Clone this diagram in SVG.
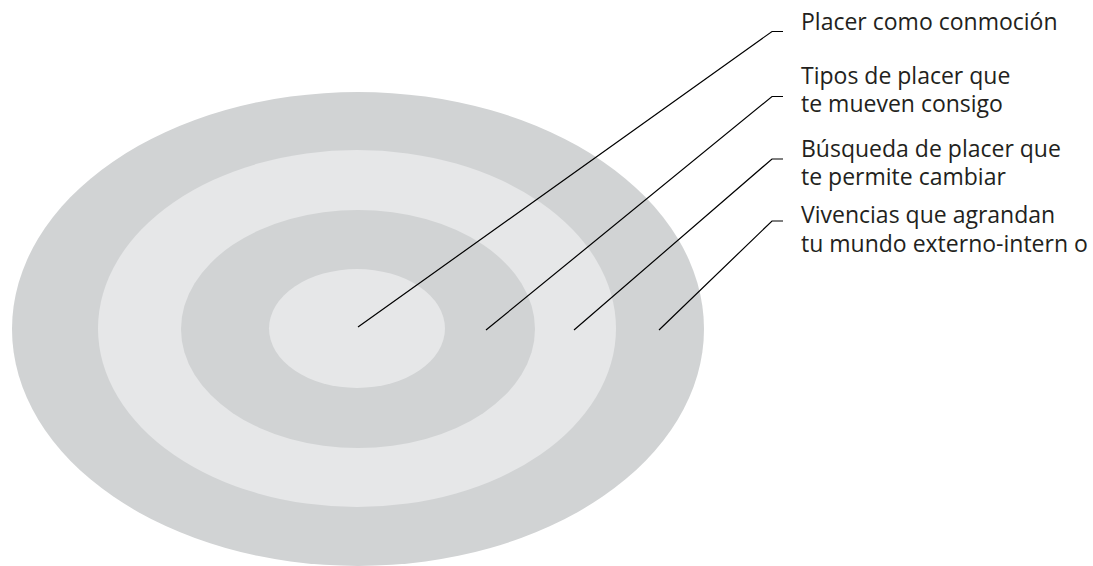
<svg xmlns="http://www.w3.org/2000/svg" width="1093" height="566" viewBox="0 0 1093 566">
<style>
.dark{fill:#d1d3d4}
.light{fill:#e6e7e8}
.lead{fill:none;stroke:#000;stroke-width:1.2}
.lbl{font-family:"Open Sans","Liberation Sans",sans-serif;font-size:23px;fill:#231f20}
</style>
<rect width="1093" height="566" fill="#fff"/>
<g id="target">
<ellipse id="ring4" class="dark" cx="358" cy="329" rx="346" ry="237"/>
<ellipse id="ring3" class="light" cx="357" cy="328.5" rx="259" ry="178.5"/>
<ellipse id="ring2" class="dark" cx="358" cy="329" rx="177" ry="119"/>
<ellipse id="ring1" class="light" cx="357" cy="328.5" rx="88" ry="59.5"/>
</g>
<g id="connectors">
<polyline class="lead" points="358,327 772,31.5 783,31.5"/>
<polyline class="lead" points="486,330 772,96.5 783,96.5"/>
<polyline class="lead" points="574,330 772,159 783,159"/>
<polyline class="lead" points="659,330 772,221 783,221"/>
</g>
<g id="label1"><text class="lbl" x="801" y="30">Placer como conmoción</text></g>
<g id="label2"><text class="lbl" x="801" y="84">Tipos de placer que</text><text class="lbl" x="801" y="112">te mueven consigo</text></g>
<g id="label3"><text class="lbl" x="801" y="157">Búsqueda de placer que</text><text class="lbl" x="801" y="185">te permite cambiar</text></g>
<g id="label4"><text class="lbl" x="801" y="223">Vivencias que agrandan</text><text class="lbl" x="801" y="252">tu mundo externo-intern o</text></g>
</svg>
